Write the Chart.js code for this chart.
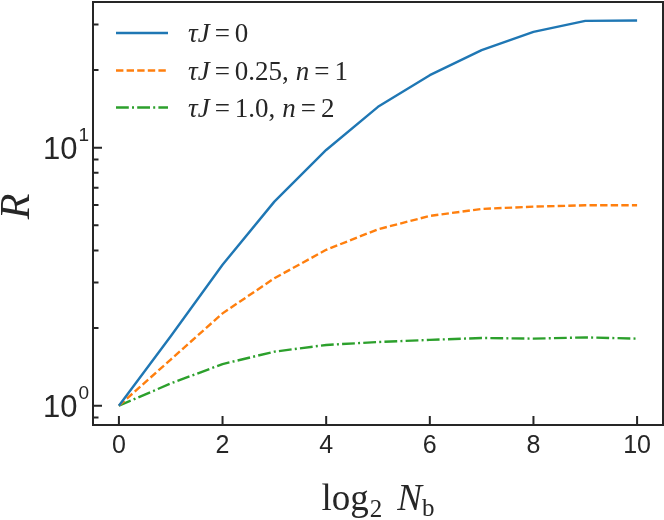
<!DOCTYPE html>
<html><head><meta charset="utf-8">
<script src="https://cdn.jsdelivr.net/npm/chart.js@4.4.0/dist/chart.umd.min.js"></script>
<style>html,body{margin:0;padding:0;background:#fff}#wrap{width:664px;height:520px}</style>
</head><body><div id="wrap"><canvas id="c" width="664" height="520"></canvas></div>
<script>
// ---- data ----
const xValues = [0, 1, 2, 3, 4, 5, 6, 7, 8, 9, 10];
const seriesBlue = [1.0, 1.86, 3.52, 6.18, 9.8, 14.4, 19.1, 23.9, 28.1, 31.0, 31.1];
const seriesOrange = [1.0, 1.51, 2.28, 3.12, 4.02, 4.83, 5.44, 5.79, 5.91, 5.98, 5.98];
const seriesGreen = [1.0, 1.22, 1.45, 1.62, 1.72, 1.765, 1.80, 1.83, 1.82, 1.84, 1.82];
const seriesLabels = ['τJ = 0', 'τJ = 0.25, n = 1', 'τJ = 1.0, n = 2'];
const xTickValues = [0, 2, 4, 6, 8, 10];
const yMajorTicks = [1, 10];
const yMajorExponents = ['0', '1'];
const yMinorTicks = [0.9, 2, 3, 4, 5, 6, 7, 8, 9, 20, 30];

const INK = '#262626';
const SANS = '"Liberation Sans", Arial, sans-serif';
const SERIF = '"Liberation Serif", "Times New Roman", serif';

function pts(arr) { return xValues.map((x, i) => ({ x: x, y: arr[i] })); }

function drawMath(ctx, str, x, y, size) {
  let cx = x;
  for (const ch of str) {
    if (ch === ' ') continue;
    const isLetter = /[A-Za-zα-ω]/.test(ch);
    ctx.font = (isLetter ? 'italic ' : '') + size + 'px ' + SERIF;
    let pre = 0, post = 0;
    if (ch === '=') { pre = 5; post = 5; }
    if (ch === ',') { post = 7; }
    cx += pre;
    ctx.fillText(ch, cx, y);
    cx += ctx.measureText(ch).width + post;
  }
  return cx - x;
}

const decor = {
  id: 'decor',
  afterDraw(chart) {
    const ctx = chart.ctx, a = chart.chartArea;
    const xs = chart.scales.x, ys = chart.scales.y;
    ctx.save();
    ctx.strokeStyle = INK;
    ctx.lineWidth = 2;
    ctx.lineCap = 'butt';
    ctx.setLineDash([]);
    ctx.beginPath();
    xTickValues.forEach(v => {
      const px = xs.getPixelForValue(v);
      ctx.moveTo(px, a.bottom); ctx.lineTo(px, a.bottom - 9);
    });
    yMajorTicks.forEach(v => {
      const py = ys.getPixelForValue(v);
      ctx.moveTo(a.left, py); ctx.lineTo(a.left + 9, py);
    });
    yMinorTicks.forEach(v => {
      const py = ys.getPixelForValue(v);
      ctx.moveTo(a.left, py); ctx.lineTo(a.left + 5.5, py);
    });
    ctx.stroke();
    ctx.strokeRect(a.left, a.top, a.right - a.left, a.bottom - a.top);

    // y tick labels 10^k
    ctx.fillStyle = INK;
    ctx.textBaseline = 'alphabetic';
    ctx.textAlign = 'left';
    yMajorTicks.forEach((v, i) => {
      const py = ys.getPixelForValue(v);
      ctx.font = '19px ' + SANS;
      const ew = ctx.measureText(yMajorExponents[i]).width;
      const ex = a.left - 4 - ew;
      ctx.fillText(yMajorExponents[i], ex, py - 7);
      ctx.font = '31px ' + SANS;
      const bw = ctx.measureText('10').width;
      ctx.fillText('10', ex - 1 - bw, py + 11);
    });

    // y axis title R
    ctx.save();
    ctx.translate(29, (a.top + a.bottom) / 2 - 7);
    ctx.rotate(-Math.PI / 2);
    ctx.font = 'italic 42px ' + SERIF;
    ctx.textAlign = 'center';
    ctx.fillText('R', 0, 0);
    ctx.restore();

    // x axis title log2 N_b
    const base = 510;
    ctx.textAlign = 'left';
    const parts = [
      { t: 'log', f: '37px ' + SERIF, dy: 0, gap: 1 },
      { t: '2', f: '25px ' + SERIF, dy: 7, gap: 15 },
      { t: 'N', f: 'italic 37px ' + SERIF, dy: 0, gap: 0 },
      { t: 'b', f: '25px ' + SERIF, dy: 6, gap: 0 }
    ];
    let tw = 0;
    parts.forEach(p => { ctx.font = p.f; tw += ctx.measureText(p.t).width + p.gap; });
    let cx = (a.left + a.right) / 2 - tw / 2;
    parts.forEach(p => { ctx.font = p.f; ctx.fillText(p.t, cx, base + p.dy); cx += ctx.measureText(p.t).width + p.gap; });

    // legend
    const rowY = [33, 70.5, 107.5];
    chart.data.datasets.forEach((ds, i) => {
      const y = rowY[i];
      ctx.strokeStyle = ds.borderColor;
      ctx.lineWidth = ds.borderWidth;
      ctx.setLineDash(ds.borderDash || []);
      ctx.beginPath();
      ctx.moveTo(116, y); ctx.lineTo(168, y);
      ctx.stroke();
      ctx.setLineDash([]);
      ctx.fillStyle = INK;
      drawMath(ctx, ds.label, 188, y + 9, 27);
    });
    ctx.restore();
  }
};

new Chart(document.getElementById('c'), {
  type: 'line',
  data: {
    datasets: [
      { label: seriesLabels[0], data: pts(seriesBlue), borderColor: '#1f77b4', borderWidth: 2.4, borderDash: [] },
      { label: seriesLabels[1], data: pts(seriesOrange), borderColor: '#ff7f0e', borderWidth: 2.4, borderDash: [7.4, 3.2] },
      { label: seriesLabels[2], data: pts(seriesGreen), borderColor: '#2ca02c', borderWidth: 2.4, borderDash: [12.8, 3.2, 2, 3.2] }
    ]
  },
  options: {
    responsive: false,
    animation: false,
    devicePixelRatio: 1,
    layout: { padding: { top: 2, right: 1, left: 0, bottom: 0 } },
    elements: { point: { radius: 0 }, line: { tension: 0, fill: false, borderCapStyle: 'butt', borderJoinStyle: 'round' } },
    plugins: { legend: { display: false }, tooltip: { enabled: false } },
    scales: {
      x: {
        type: 'linear', min: -0.5, max: 10.5,
        grid: { display: false, drawTicks: false },
        border: { display: false },
        ticks: { color: INK, font: { family: SANS, size: 25 }, padding: 6, maxRotation: 0 },
        afterBuildTicks: s => { s.ticks = xTickValues.map(v => ({ value: v })); },
        afterFit: s => { s.height = 95; }
      },
      y: {
        type: 'logarithmic', min: 0.842, max: 36.7,
        grid: { display: false, drawTicks: false },
        border: { display: false },
        ticks: { display: false },
        afterBuildTicks: s => { s.ticks = yMajorTicks.map(v => ({ value: v })); },
        afterFit: s => { s.height = s.height; s.width = 93; }
      }
    }
  },
  plugins: [decor]
});
</script>
</body></html>
